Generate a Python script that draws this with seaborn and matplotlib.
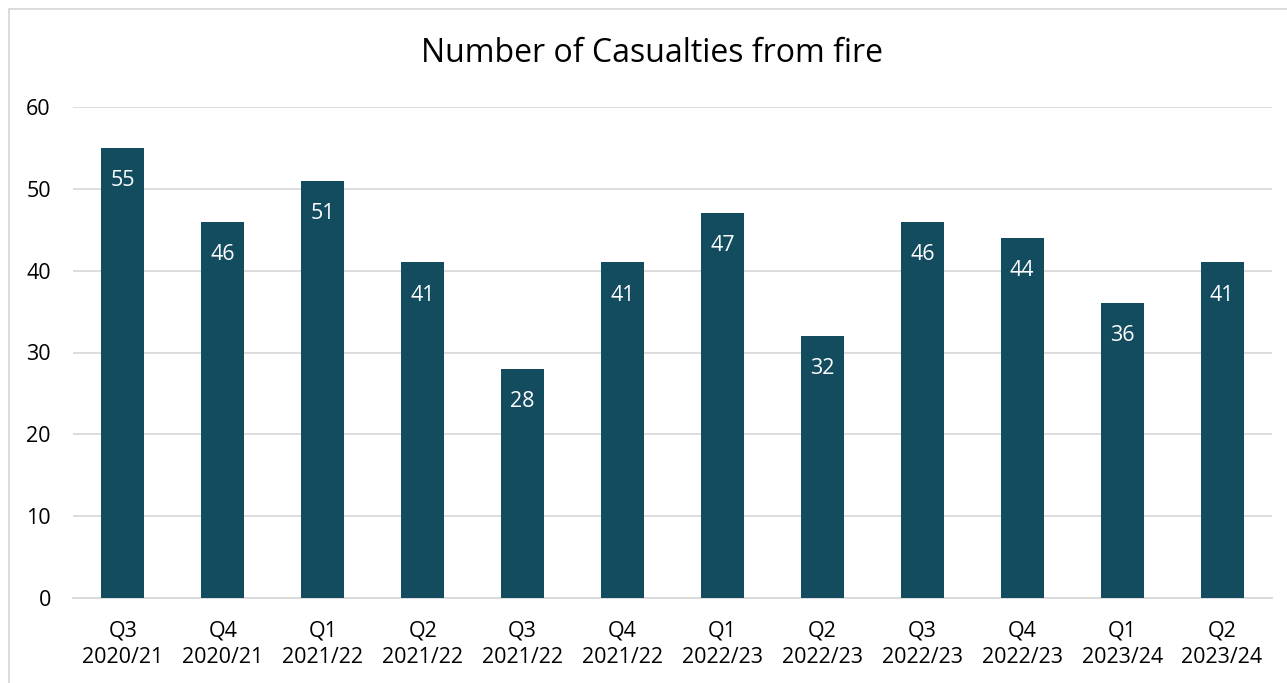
import matplotlib
matplotlib.use("Agg")
import matplotlib.pyplot as plt
import seaborn as sns
import pandas as pd
from matplotlib.lines import Line2D

quarters = ["Q3", "Q4", "Q1", "Q2", "Q3", "Q4", "Q1", "Q2", "Q3", "Q4", "Q1", "Q2"]
years = ["2020/21", "2020/21", "2021/22", "2021/22", "2021/22", "2021/22",
         "2022/23", "2022/23", "2022/23", "2022/23", "2023/24", "2023/24"]
casualties = [55, 46, 51, 41, 28, 41, 47, 32, 46, 44, 36, 41]

labels = [f"{q}\n{y}" for q, y in zip(quarters, years)]
df = pd.DataFrame({"period": labels, "casualties": casualties})

sns.set_theme(style="white")
plt.rcParams["font.family"] = ["Open Sans", "DejaVu Sans"]

W, H = 1287, 683
fig = plt.figure(figsize=(W / 100, H / 100), dpi=100)
ax = fig.add_axes([73 / W, 1 - 598 / H, (1272 - 73) / W, (598 - 107) / H])

bar_color = "#134B5F"
sns.barplot(data=df, x="period", y="casualties", color=bar_color,
            width=0.43, saturation=1, linewidth=0, ax=ax, zorder=3)

ax.set_ylim(0, 60)
ax.set_xlim(-0.5, len(labels) - 0.5)
ax.set_yticks(range(0, 61, 10))
ax.yaxis.grid(True, color="#D9D9D9", linewidth=1.3, zorder=0)
ax.set_axisbelow(True)
for side in ["top", "right", "left"]:
    ax.spines[side].set_visible(False)
ax.spines["bottom"].set_color("#D9D9D9")
ax.spines["bottom"].set_linewidth(1.3)
ax.tick_params(axis="both", length=0, labelsize=15.5, colors="#000000")
ax.tick_params(axis="y", pad=16)
ax.tick_params(axis="x", pad=16)
for t in ax.get_xticklabels():
    t.set_linespacing(1.35)
ax.set_xlabel("")
ax.set_ylabel("")

for container in ax.containers:
    ax.bar_label(container, labels=[str(v) for v in casualties], label_type="edge",
                 padding=-31, color="white", fontsize=15.5)

fig.text(652 / W, 1 - 54 / H, "Number of Casualties from fire",
         ha="center", va="center", fontsize=23, color="#000000")

# chart frame
fig.add_artist(Line2D([8.5 / W, 1], [1 - 8.5 / H, 1 - 8.5 / H],
                      transform=fig.transFigure, color="#D9D9D9", linewidth=1.3))
fig.add_artist(Line2D([8.5 / W, 8.5 / W], [0, 1 - 8.5 / H],
                      transform=fig.transFigure, color="#D9D9D9", linewidth=1.3))

fig.savefig("out.png", dpi=100, facecolor="white")
